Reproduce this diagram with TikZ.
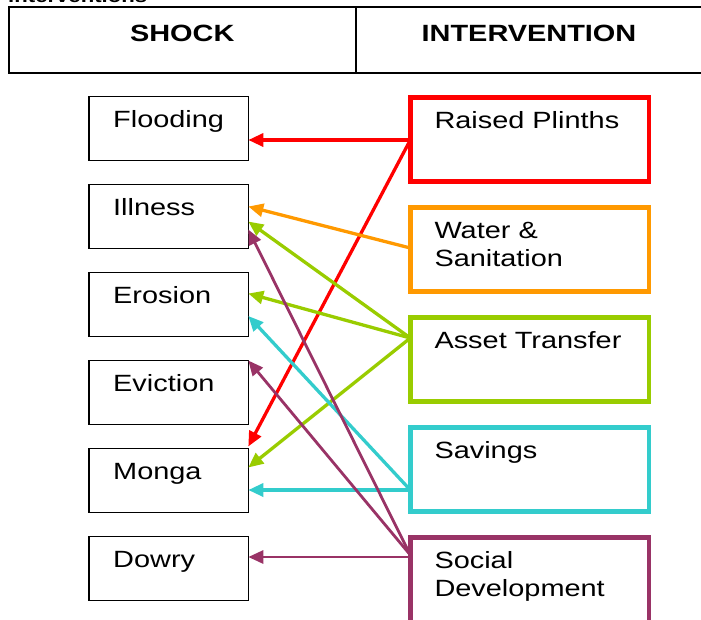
\documentclass[tikz,border=0pt]{standalone}
\usepackage{fontspec}
\setmainfont{Liberation Sans}[FakeStretch=1.23]
\usetikzlibrary{arrows.meta}
\definecolor{plinthred}{HTML}{FF0000}
\definecolor{waterorange}{HTML}{FF9900}
\definecolor{assetgreen}{HTML}{99CC00}
\definecolor{savingscyan}{HTML}{33CCCC}
\definecolor{socialpurple}{HTML}{993366}
\newcommand\boxfont{\fontsize{23.5pt}{28pt}\selectfont}
\newcommand\headfont{\fontsize{23.5pt}{28pt}\selectfont\bfseries}
\tikzset{
	headcell/.style={draw,line width=2pt,minimum width=347.5pt,minimum height=66pt,anchor=north west,outer sep=0pt},
	shockbox/.style={draw,line width=1.6pt,minimum width=159.3pt,minimum height=64pt,anchor=north west,outer sep=0pt},
	actbox/.style={draw,line width=4.5pt,minimum width=238.7pt,minimum height=84pt,anchor=north west,outer sep=0pt},
	boxtext/.style={anchor=base west,xshift=24pt,yshift=-31pt,align=left,inner sep=0pt,font=\boxfont},
	twolines/.style={boxtext,yshift=-28pt},
	headtext/.style={anchor=base,yshift=-34pt,inner sep=0pt,font=\headfont},
	link/.style={line width=3.3pt,-{Triangle[length=15pt,width=13pt]}}
}
\begin{document}
\begin{tikzpicture}[x=1pt,y=-1pt]
		\useasboundingbox (0,0) rectangle (701,619);
		% draw header row and caption
		\node[anchor=base west,inner sep=0pt,font=\fontsize{18pt}{20pt}\selectfont\bfseries] (cap) at (8,2) {interventions};
		\node[headcell,label={[headtext]north:SHOCK}] (h1) at (8.5,7) {};
		\node[headcell,minimum width=346pt,label={[headtext]north:INTERVENTION}] (h2) at (356,7) {};

		% shocks on the left
		\node[shockbox,label={[boxtext]north west:Flooding}] (s1) at (89,96.5) {};
		\node[shockbox,label={[boxtext]north west:Illness}] (s2) at (89,184.5) {};
		\node[shockbox,label={[boxtext]north west:Erosion}] (s3) at (89,272.5) {};
		\node[shockbox,label={[boxtext]north west:Eviction}] (s4) at (89,360.5) {};
		\node[shockbox,label={[boxtext]north west:Monga}] (s5) at (89,448.5) {};
		\node[shockbox,label={[boxtext]north west:Dowry}] (s6) at (89,536.5) {};

		% interventions on the right
		\node[actbox,plinthred,label={[boxtext]north west:Raised Plinths}] (i1) at (410.3,97.5) {};
		\node[actbox,waterorange,label={[twolines]north west:Water \&\\Sanitation}] (i2) at (410.3,207.5) {};
		\node[actbox,assetgreen,label={[boxtext]north west:Asset Transfer}] (i3) at (410.3,317.5) {};
		\node[actbox,savingscyan,label={[boxtext]north west:Savings}] (i4) at (410.3,427.5) {};
		\node[actbox,socialpurple,minimum height=95pt,label={[twolines]north west:Social\\Development}] (i5) at (410.3,537.5) {};

		\draw[link,plinthred] ([yshift=-42.5pt]i1.north west) -- ([yshift=-43.5pt]s1.north east);
		\draw[link,plinthred] ([yshift=-42.5pt]i1.north west) -- ([yshift=2pt]s5.north east);

		\draw[link,waterorange] ([yshift=-40.5pt]i2.north west) -- ([yshift=-22pt]s2.north east);

		\draw[link,assetgreen] ([yshift=-20.5pt]i3.north west) -- ([yshift=-37pt]s2.north east);
		\draw[link,assetgreen] ([yshift=-20.5pt]i3.north west) -- ([yshift=-21pt]s3.north east);
		\draw[link,assetgreen] ([yshift=-20.5pt]i3.north west) -- ([yshift=-19pt]s5.north east);

		\draw[link,savingscyan] ([yshift=-62.5pt]i4.north west) -- ([yshift=-43.5pt]s3.north east);
		\draw[link,savingscyan] ([yshift=-62.5pt]i4.north west) -- ([yshift=-41.5pt]s5.north east);

		\draw[link,socialpurple,line width=2.8pt] ([yshift=-17.5pt]i5.north west) -- ([yshift=-45pt]s2.north east);
		\draw[link,socialpurple,line width=2.8pt] ([yshift=-17.5pt]i5.north west) -- (s4.north east);
		\draw[link,socialpurple,line width=2.8pt] ([yshift=-19.5pt]i5.north west) -- ([yshift=-20.5pt]s6.north east);
	\end{tikzpicture}
\end{document}
